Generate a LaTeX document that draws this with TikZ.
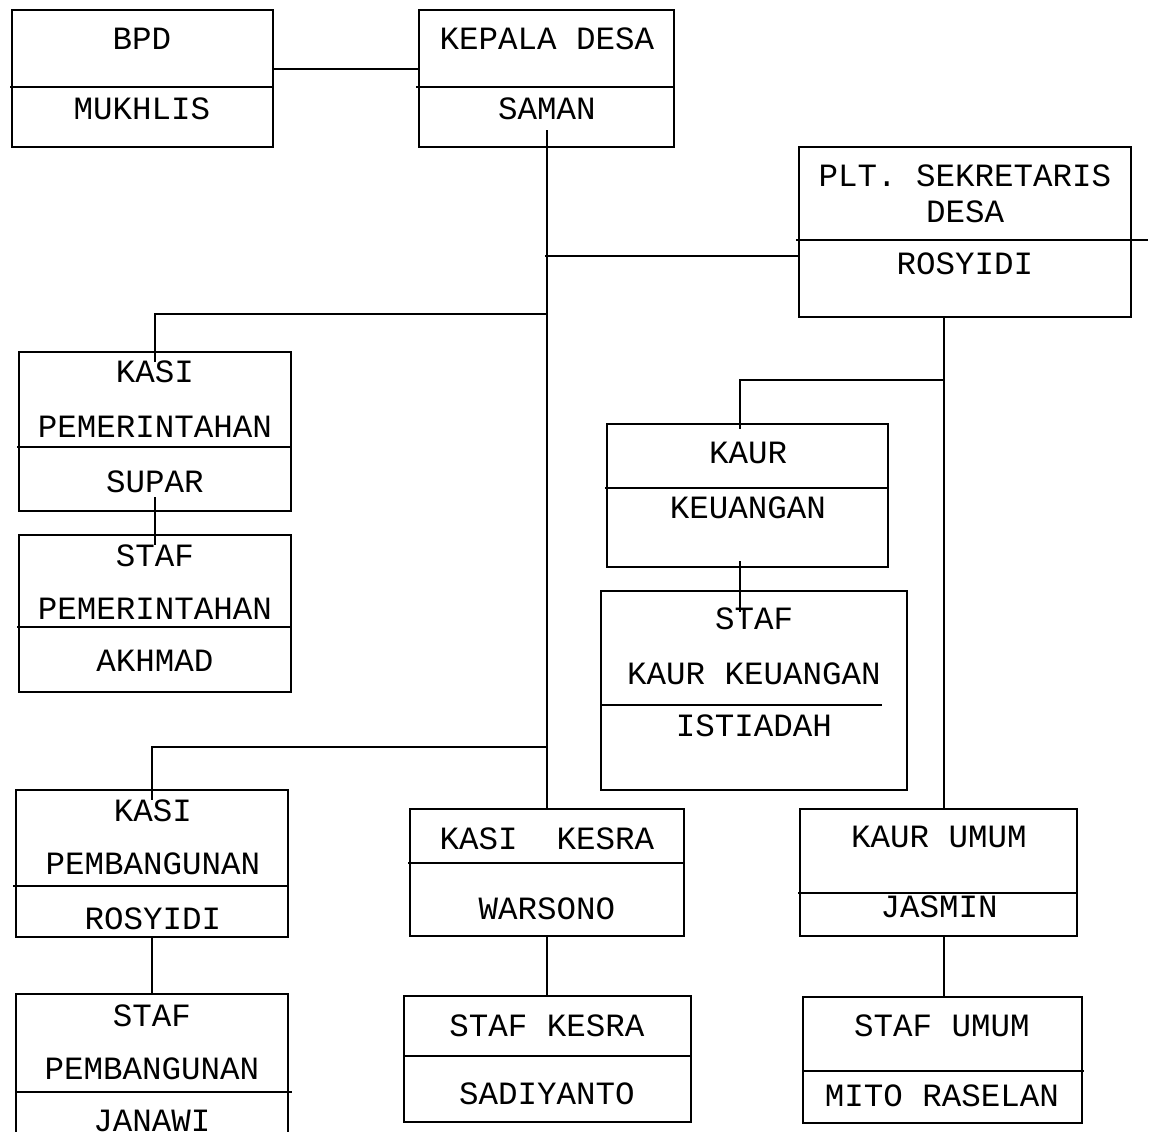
\documentclass[tikz,border=0pt]{standalone}
\usepackage{fontspec}
\setmonofont{Liberation Mono}
\usetikzlibrary{positioning,fit,calc}

\begin{document}
\begin{tikzpicture}[
  x=1pt, y=-1pt,
  font=\ttfamily\fontsize{32.5}{38}\selectfont,
  line width=1.8pt,
  box/.style={draw, rectangle, inner sep=0pt, outer sep=0pt},
  lbl/.style={inner sep=0pt, text height=18pt, text depth=0pt, anchor=center},
  link/.style={draw, line cap=rect}
]
\useasboundingbox (0,0) rectangle (1154,1132);
\clip (0,0) rectangle (1154,1132);

% ---- Row 0: BPD and kepala desa ----
\node[box, fit={(12,10) (273,147)}] (bpd) {};
\node[box, fit={(419,10) (674,147)}] (kd) {};
\draw (10,87) -- (273,87);
\draw (416,87) -- (674,87);
\node[lbl] (bpdt) at (142,40) {BPD};
\node[lbl] (bpdn) at (142,110) {MUKHLIS};
\node[lbl] (kdt) at (547,40) {KEPALA DESA};
\node[lbl] (kdn) at (547,110) {SAMAN};

\draw[link] (bpd.east |- 0,69) -- (kd.west |- 0,69);

% ---- sekretaris ----
\node[box, fit={(799,147) (1131,317)}] (plt) {};
\draw (796,240) -- (1148,240);
\node[lbl] (pltt1) at (965,177) {PLT. SEKRETARIS};
\node[lbl] (pltt2) at (965,213) {DESA};
\node[lbl] (pltn) at (965,265) {ROSYIDI};

% ---- Row 1: kasi pemerintahan ----
\node[box, fit={(19,352) (291,511)}] (pem) {};
\draw (17,447) -- (291,447);
\node[lbl] (pemt1) at (155,373) {KASI};
\node[lbl] (pemt2) at (155,428) {PEMERINTAHAN};
\node[lbl] (pemn) at (155,483) {SUPAR};

\node[box, fit={(19,535) (291,692)}] (spem) {};
\draw (17,627) -- (291,627);
\node[lbl] (spemt1) at (155,557) {STAF};
\node[lbl] (spemt2) at (155,610) {PEMERINTAHAN};
\node[lbl] (spemn) at (155,662) {AKHMAD};

% ---- kaur keuangan ----
\node[box, fit={(607,424) (888,567)}] (keu) {};
\draw (605,488) -- (888,488);
\node[lbl] (keut1) at (748,454) {KAUR};
\node[lbl] (keut2) at (748,509) {KEUANGAN};

\node[box, fit={(601,591) (907,790)}] (skeu) {};
\draw (601,705) -- (882,705);
\node[lbl] (skeut1) at (754,620) {STAF};
\node[lbl] (skeut2) at (754,675) {KAUR KEUANGAN};
\node[lbl] (skeun) at (754,727) {ISTIADAH};

% ---- Row 2: kasi pembangunan, kesra, kaur umum ----
\node[box, fit={(16,790) (288,937)}] (pemb) {};
\draw (13,886) -- (288,886);
\node[lbl] (pembt1) at (153,812) {KASI};
\node[lbl] (pembt2) at (153,865) {PEMBANGUNAN};
\node[lbl] (pembn) at (153,920) {ROSYIDI};

\node[box, fit={(410,809) (684,936)}] (kesra) {};
\draw (408,863) -- (684,863);
\node[lbl] (kesrat) at (547,840) {KASI~~KESRA};
\node[lbl] (kesran) at (547,910) {WARSONO};

\node[box, fit={(800,809) (1077,936)}] (umum) {};
\draw (798,893) -- (1078,893);
\node[lbl] (umumt) at (939,838) {KAUR UMUM};
\node[lbl] (umumn) at (939,908) {JASMIN};

% ---- Row 3: staf ----
\node[box, fit={(16,994) (288,1150)}] (spemb) {};
\draw (16,1092) -- (292,1092);
\node[lbl] (spembt1) at (152,1017) {STAF};
\node[lbl] (spembt2) at (152,1070) {PEMBANGUNAN};
\node[lbl] (spembn) at (152,1122) {JANAWI};

\node[box, fit={(404,996) (691,1122)}] (skesra) {};
\draw (404,1056) -- (691,1056);
\node[lbl] (skesrat) at (547,1027) {STAF KESRA};
\node[lbl] (skesran) at (547,1095) {SADIYANTO};

\node[box, fit={(803,997) (1082,1123)}] (sumum) {};
\draw (803,1071) -- (1084,1071);
\node[lbl] (sumumt) at (942,1027) {STAF UMUM};
\node[lbl] (sumumn) at (942,1097) {MITO RASELAN};

% ---- connectors ----
\coordinate (trunk) at (547,130);
\coordinate (sekjunc) at (944,380);
\coordinate (keutop) at (740,429);

\draw (trunk) -- (kesra.north);
\draw (545,256) -- (plt.west |- 0,256);
\draw (kesra.north |- 0,314) -| ([yshift=-10pt]pem.north);
\draw (kesra.north |- 0,747) -| ([yshift=-10pt]pemb.north);
\draw ([yshift=14pt]pem.south) -- ([yshift=-10pt]spem.north);
\draw (pemb.south) -- (spemb.north);
\draw (kesra.south) -- (kesra.south |- skesra.north);

\draw (plt.south -| sekjunc) -- (umum.north -| sekjunc);
\draw (sekjunc) -| (keutop);
\draw ([yshift=6pt]keu.south -| keutop) -- ([yshift=-21pt]skeu.north -| keutop);
\draw (umum.south -| sekjunc) -- (sumum.north -| sekjunc);

\end{tikzpicture}
\end{document}
